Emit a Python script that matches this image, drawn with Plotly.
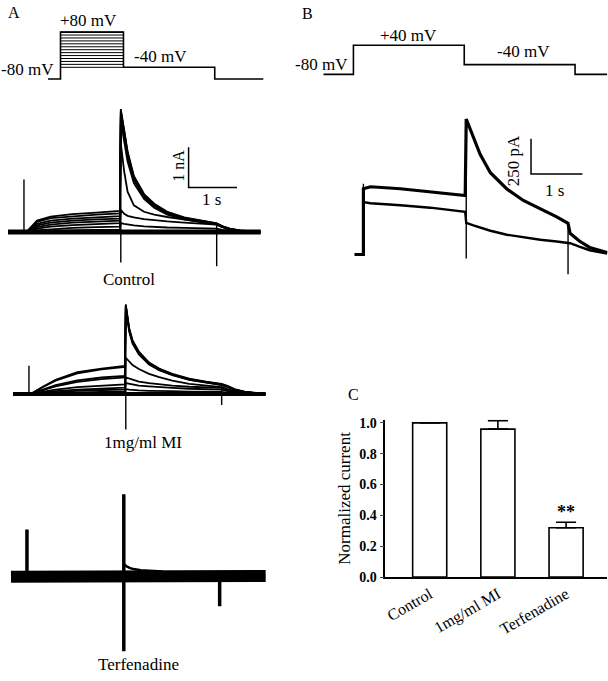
import plotly.graph_objects as go

W, H = 608, 681
FONT = "Liberation Serif"

# ---------------- data ----------------
# Panel A voltage protocol (schematic, time in s, voltage in mV)
PROTO_A_T = [-0.4, 0.0, 0.0, 2.0, 2.0, 4.9, 4.9, 6.45]
PROTO_A_V = [-80, -80, 80, 80, -40, -40, -80, -80]
PROTO_A_STEPS = [-40, -30, -20, -10, 0, 10, 20, 30, 40, 50, 60, 70, 80]

# Panel B voltage protocol
PROTO_B_T = [-0.54, 0.0, 0.0, 2.0, 2.0, 4.0, 4.0, 4.58]
PROTO_B_V = [-80, -80, 40, 40, -40, -40, -80, -80]

# Panel A current sweeps (time in s, current in nA)
T_A = [-0.33, 0.0, 0.08, 0.27, 0.55, 1.0, 1.5, 1.98, 2.0, 2.07, 2.14, 2.27,
       2.48, 2.69, 2.96, 3.31, 3.65, 3.98, 4.1, 4.25, 4.45, 4.7, 4.89]

CONTROL_SWEEPS = [
    [0, 0, 0.03, 0.28, 0.38, 0.44, 0.48, 0.52, 3.05, 2.55, 2.00, 1.39, 0.94, 0.70, 0.50, 0.36, 0.28, 0.21, 0.14, 0.08, 0.04, 0.01, 0],
    [0, 0, 0.03, 0.25, 0.34, 0.39, 0.43, 0.46, 3.00, 2.50, 1.96, 1.36, 0.92, 0.68, 0.49, 0.35, 0.27, 0.21, 0.14, 0.08, 0.04, 0.01, 0],
    [0, 0, 0.02, 0.20, 0.28, 0.33, 0.36, 0.39, 2.95, 2.45, 1.92, 1.33, 0.90, 0.66, 0.47, 0.34, 0.26, 0.20, 0.13, 0.07, 0.03, 0.01, 0],
    [0, 0, 0.02, 0.16, 0.23, 0.28, 0.31, 0.33, 2.88, 2.38, 1.86, 1.29, 0.87, 0.64, 0.45, 0.33, 0.25, 0.19, 0.13, 0.07, 0.03, 0.01, 0],
    [0, 0, 0.01, 0.12, 0.18, 0.23, 0.26, 0.28, 2.75, 2.25, 1.75, 1.21, 0.82, 0.60, 0.43, 0.31, 0.24, 0.18, 0.12, 0.07, 0.03, 0.01, 0],
    [0, 0, 0.01, 0.08, 0.13, 0.17, 0.20, 0.22, 2.20, 1.50, 1.00, 0.66, 0.50, 0.43, 0.37, 0.30, 0.25, 0.20, 0.13, 0.07, 0.03, 0.01, 0],
    [0, 0, 0.00, 0.04, 0.07, 0.10, 0.12, 0.13, 0.55, 0.45, 0.40, 0.36, 0.32, 0.29, 0.26, 0.23, 0.20, 0.18, 0.12, 0.06, 0.03, 0.01, 0],
    [0, 0, 0.00, 0.02, 0.03, 0.04, 0.05, 0.05, 0.22, 0.20, 0.18, 0.16, 0.14, 0.12, 0.11, 0.10, 0.09, 0.08, 0.05, 0.03, 0.01, 0.00, 0],
    [0, 0, 0.00, 0.00, 0.00, 0.00, 0.00, 0.00, 0.00, 0.00, 0.00, 0.00, 0.00, 0.00, 0.00, 0.00, 0.00, 0.00, 0.00, 0.00, 0.00, 0.00, 0],
]
CONTROL_SPIKE_T = [0.0, 2.0, 3.98]
CONTROL_SPIKE_LO = [0.0, -0.76, -0.85]
CONTROL_SPIKE_HI = [1.3, 3.05, 0.2]

MI_SWEEPS = [
    [0, 0, 0.03, 0.17, 0.35, 0.54, 0.63, 0.70, 2.22, 1.63, 1.33, 1.05, 0.78, 0.63, 0.50, 0.38, 0.31, 0.25, 0.20, 0.12, 0.06, 0.02, 0],
    [0, 0, 0.03, 0.16, 0.33, 0.51, 0.61, 0.67, 2.20, 1.61, 1.31, 1.03, 0.77, 0.62, 0.49, 0.37, 0.30, 0.24, 0.19, 0.11, 0.05, 0.02, 0],
    [0, 0, 0.02, 0.10, 0.22, 0.34, 0.41, 0.45, 2.18, 1.58, 1.28, 1.01, 0.75, 0.60, 0.48, 0.36, 0.29, 0.23, 0.18, 0.10, 0.05, 0.02, 0],
    [0, 0, 0.02, 0.09, 0.19, 0.30, 0.37, 0.41, 2.15, 1.55, 1.25, 0.98, 0.73, 0.59, 0.47, 0.35, 0.28, 0.22, 0.17, 0.10, 0.05, 0.02, 0],
    [0, 0, 0.01, 0.05, 0.11, 0.17, 0.21, 0.24, 0.90, 0.80, 0.72, 0.62, 0.50, 0.42, 0.33, 0.25, 0.20, 0.17, 0.12, 0.07, 0.03, 0.01, 0],
    [0, 0, 0.00, 0.03, 0.07, 0.11, 0.14, 0.16, 0.41, 0.38, 0.35, 0.31, 0.27, 0.24, 0.21, 0.18, 0.16, 0.15, 0.10, 0.05, 0.02, 0.01, 0],
    [0, 0, 0.00, 0.02, 0.05, 0.08, 0.10, 0.11, 0.27, 0.25, 0.23, 0.21, 0.19, 0.17, 0.15, 0.13, 0.12, 0.11, 0.07, 0.04, 0.02, 0.01, 0],
    [0, 0, 0.00, 0.01, 0.02, 0.04, 0.05, 0.06, 0.12, 0.11, 0.10, 0.09, 0.08, 0.07, 0.07, 0.06, 0.06, 0.05, 0.03, 0.02, 0.01, 0.00, 0],
    [0, 0, 0.00, 0.00, 0.00, 0.00, 0.00, 0.00, 0.00, 0.00, 0.00, 0.00, 0.00, 0.00, 0.00, 0.00, 0.00, 0.00, 0.00, 0.00, 0.00, 0.00, 0],
]
MI_SPIKE_T = [0.0, 2.0, 3.98]
MI_SPIKE_LO = [0.0, -0.88, -0.27]
MI_SPIKE_HI = [0.7, 2.22, 0.25]

# Terfenadine: noisy baseline band plus a small tail
T_TERF = [-0.33, 0.0, 0.3, 1.0, 1.5, 1.98, 2.3, 3.0, 3.98, 4.2, 4.93]
I_TERF = [0, 0, 0.03, 0.05, 0.06, 0.07, 0.06, 0.05, 0.04, 0.03, 0.02]
T_TERF_TAIL = [2.0, 2.05, 2.12, 2.2, 2.35, 2.55, 2.8]
I_TERF_TAIL = [0.32, 0.26, 0.22, 0.19, 0.16, 0.14, 0.13]
TERF_SPIKE_T = [0.0, 2.0, 3.98]
TERF_SPIKE_LO = [0.0, -1.85, -0.73]
TERF_SPIKE_HI = [1.17, 2.05, 0.0]

# Panel B traces (time in s, current in pA)
T_B = [-0.17, 0.0, 0.0, 0.14, 0.72, 1.3, 1.98, 2.0, 2.14, 2.27, 2.47, 2.79,
       3.11, 3.44, 3.76, 3.98, 4.02, 4.2, 4.4, 4.74]
B_UPPER = [0, 0, 465, 479, 465, 444, 417, 958, 822, 708, 578, 463, 382, 324, 266, 220, 150, 95, 50, 14]
B_LOWER = [0, 0, 370, 362, 348, 331, 301, 224, 206, 192, 168, 140, 120, 104, 92, 83, 80, 55, 30, 7]
B_SPIKE_T = [0.0, 2.0, 3.98]
B_SPIKE_LO = [0, -28, -139]
B_SPIKE_HI = [500, 958, 220]

# Panel C
GROUPS = ["Control", "1mg/ml MI", "Terfenadine"]
NORM_CURRENT = [1.0, 0.96, 0.32]
NORM_ERR = [0.0, 0.055, 0.035]
Y_TICKS = [0.0, 0.2, 0.4, 0.6, 0.8, 1.0]

# ---------------- layout helpers ----------------
def dom_x(a, b):
    return [a / W, b / W]


def dom_y(top, bot):
    return [1 - bot / H, 1 - top / H]


def rng_x(a, b, origin, scale):
    return [(a - origin) / scale, (b - origin) / scale]


def rng_y(top, bot, origin, scale):
    return [(origin - bot) / scale, (origin - top) / scale]


# panel geometry: pixel domain, pixel position of the zero, pixels per unit
PANELS = {
    1: dict(dx=(47, 263), x0=59.6, sx=31.53, dy=(18, 88), y0=52.5, sy=0.2986),   # A protocol
    2: dict(dx=(3, 270), x0=23, sx=48.5, dy=(100, 276), y0=232, sy=41),          # Control
    3: dict(dx=(3, 270), x0=28, sx=48.5, dy=(290, 440), y0=397, sy=41),          # MI
    4: dict(dx=(3, 270), x0=26, sx=48.5, dy=(488, 668), y0=583, sy=41),          # Terfenadine
    5: dict(dx=(318, 607), x0=353, sx=55.5, dy=(28, 88), y0=51.9, sy=0.2464),    # B protocol
    6: dict(dx=(340, 608), x0=363, sx=51.5, dy=(105, 290), y0=255, sy=0.144),    # B traces
}

fig = go.Figure()


def line(ax, x, y, width=1.5):
    fig.add_trace(go.Scatter(
        x=x, y=y, mode="lines", xaxis=f"x{ax}", yaxis=f"y{ax}",
        line=dict(color="black", width=width), hoverinfo="skip", showlegend=False))


def spikes(ax, ts, lo, hi, width):
    xs, ys = [], []
    for t, a, b in zip(ts, lo, hi):
        xs += [t, t, None]
        ys += [a, b, None]
    line(ax, xs, ys, width)


# Panel A protocol
line(1, PROTO_A_T, PROTO_A_V, 1.6)
sx, sy = [], []
for v in PROTO_A_STEPS:
    sx += [PROTO_A_T[2], PROTO_A_T[3], None]
    sy += [v, v, None]
line(1, sx, sy, 1.0)

# Control sweeps
for i, s in enumerate(CONTROL_SWEEPS):
    line(2, T_A, s, 5 if i == len(CONTROL_SWEEPS) - 1 else 1.8)
spikes(2, CONTROL_SPIKE_T, CONTROL_SPIKE_LO, CONTROL_SPIKE_HI, 1.4)

# MI sweeps
for i, s in enumerate(MI_SWEEPS):
    line(3, T_A, s, 4 if i == len(MI_SWEEPS) - 1 else 1.8)
spikes(3, MI_SPIKE_T, MI_SPIKE_LO, MI_SPIKE_HI, 1.4)

# Terfenadine
line(4, T_TERF, I_TERF, 12)
line(4, T_TERF_TAIL, I_TERF_TAIL, 2.5)
spikes(4, TERF_SPIKE_T, TERF_SPIKE_LO, TERF_SPIKE_HI, 3.5)

# Panel B protocol and traces
line(5, PROTO_B_T, PROTO_B_V, 1.6)
line(6, T_B, B_UPPER, 3.2)
line(6, T_B, B_LOWER, 2.4)
spikes(6, B_SPIKE_T, B_SPIKE_LO, B_SPIKE_HI, 1.4)

# Scale bars (1 s x 1 nA in Control; 1 s x 250 pA in B)
SB_A = (3.40, 1.10)
line(2, [SB_A[0], SB_A[0], SB_A[0] + 1.0], [SB_A[1] + 1.0, SB_A[1], SB_A[1]], 1.5)
SB_B = (3.26, 569)
line(6, [SB_B[0], SB_B[0], SB_B[0] + 1.0], [SB_B[1] + 250, SB_B[1], SB_B[1]], 1.5)

# Panel C bars
fig.add_trace(go.Bar(
    x=GROUPS, y=NORM_CURRENT, width=0.5, xaxis="x7", yaxis="y7",
    marker=dict(color="white", line=dict(color="black", width=1.6)),
    error_y=dict(type="data", symmetric=False, array=NORM_ERR,
                 arrayminus=[0, 0, 0], color="black", thickness=1.6, width=10),
    hoverinfo="skip", showlegend=False))

layout = dict(
    width=W, height=H, margin=dict(l=0, r=0, t=0, b=0),
    paper_bgcolor="white", plot_bgcolor="white",
    font=dict(family=FONT, color="black"), showlegend=False,
)
for k, p in PANELS.items():
    sfx = "" if k == 1 else str(k)
    layout[f"xaxis{sfx}"] = dict(domain=dom_x(*p["dx"]), range=rng_x(*p["dx"], p["x0"], p["sx"]),
                                 visible=False, anchor=f"y{k}", fixedrange=True)
    layout[f"yaxis{sfx}"] = dict(domain=dom_y(*p["dy"]), range=rng_y(*p["dy"], p["y0"], p["sy"]),
                                 visible=False, anchor=f"x{k}", fixedrange=True)

layout["xaxis7"] = dict(domain=dom_x(385, 607), anchor="y7", type="category",
                        range=[-0.65, 2.6], showline=True, linecolor="black", linewidth=1.6,
                        ticks="", tickangle=-30, tickfont=dict(family=FONT, size=16),
                        showgrid=False, zeroline=False, fixedrange=True)
layout["yaxis7"] = dict(domain=dom_y(423.3, 583.3), anchor="x7", range=[0, 1.02],
                        tickvals=Y_TICKS, tickformat=".1f", ticks="outside", ticklen=4,
                        tickwidth=1.4, showline=True, linecolor="black", linewidth=1.6,
                        tickfont=dict(family=FONT, size=14, weight="bold"),
                        title=dict(text="Normalized current", font=dict(family=FONT, size=17), standoff=4),
                        showgrid=False, zeroline=False, fixedrange=True)

fig.update_layout(**layout)


def ann(text, px, py, size=17, angle=0):
    fig.add_annotation(text=text, x=px / W, y=1 - py / H, xref="paper", yref="paper",
                       showarrow=False, xanchor="center", yanchor="middle", textangle=angle,
                       font=dict(family=FONT, size=size, color="black"))


ann("A", 13, 9, 16)
ann("+80 mV", 88, 17)
ann("-80 mV", 27, 67)
ann("-40 mV", 160, 53)
ann("B", 307, 10, 16)
ann("-80 mV", 321, 62)
ann("+40 mV", 408, 32)
ann("-40 mV", 523, 48)
ann("1 nA", 177, 165, 16, -90)
ann("1 s", 211, 199, 17)
ann("Control", 128, 280, 17)
ann("1mg/ml MI", 142, 446, 17)
ann("Terfenadine", 138, 672, 17)
ann("250 pA", 513, 160, 17, -90)
ann("1 s", 554, 190, 17)
ann("C", 353, 398, 16)

fig.add_annotation(text="<b>**</b>", x=GROUPS[2], y=NORM_CURRENT[2] + NORM_ERR[2],
                   xref="x7", yref="y7", showarrow=False, yanchor="bottom", yshift=-2,
                   font=dict(family=FONT, size=18, color="black"))

fig.write_html("out.html", config={"displayModeBar": False},
               post_script="document.body.style.margin='0px';")
